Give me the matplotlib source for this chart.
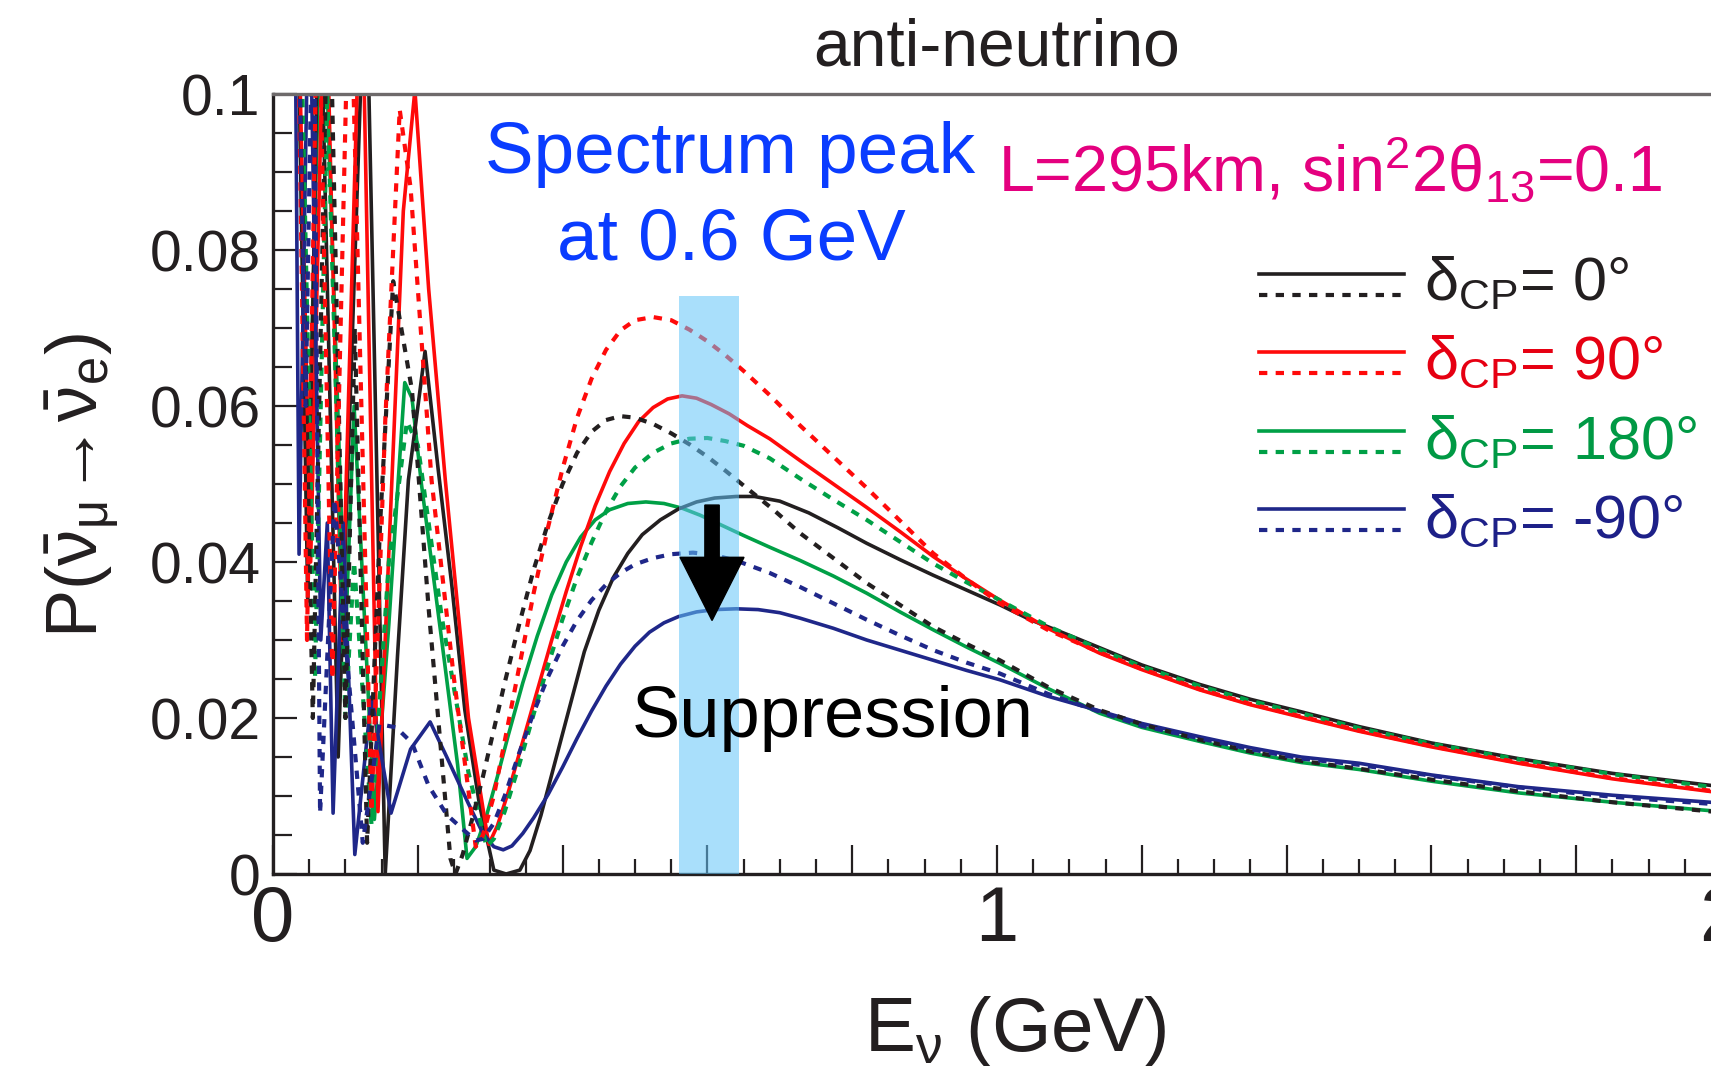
import matplotlib
matplotlib.use('Agg')
import matplotlib.pyplot as plt
from matplotlib.patches import Rectangle
from matplotlib.lines import Line2D
from matplotlib.ticker import MultipleLocator, FuncFormatter

plt.rcParams['font.family'] = ['Liberation Sans', 'DejaVu Sans']
plt.rcParams['mathtext.fontset'] = 'custom'
plt.rcParams['mathtext.rm'] = 'Liberation Sans'
plt.rcParams['mathtext.it'] = 'Liberation Sans:italic'
plt.rcParams['mathtext.bf'] = 'Liberation Sans:bold'
plt.rcParams['mathtext.sf'] = 'Liberation Sans'

# ---------------- data ----------------
# delta_CP = 0 deg, solid
bs_x = [0.033, 0.048, 0.064, 0.090, 0.128, 0.155, 0.172, 0.187, 0.210, 0.228, 0.247, 0.265, 0.285, 0.305, 0.322,
        0.341, 0.355, 0.370, 0.390, 0.410, 0.430, 0.450, 0.470, 0.490, 0.510, 0.535, 0.560, 0.585, 0.610, 0.640,
        0.665, 0.700, 0.740, 0.780, 0.820, 0.866, 0.912, 0.958, 1.004, 1.046, 1.100, 1.142, 1.200, 1.280, 1.350,
        1.420, 1.500, 1.600, 1.720, 1.850, 2.000]
bs_y = [0.120, 0.035, 0.120, 0.015, 0.120, 0.000, 0.028, 0.0505, 0.0670, 0.0520, 0.0370, 0.0210, 0.0090, 0.0005, 0.0000,
        0.0005, 0.0030, 0.0075, 0.0145, 0.0215, 0.0285, 0.0338, 0.0380, 0.0411, 0.0435, 0.0454, 0.0468, 0.0477, 0.0482, 0.0484,
        0.0484, 0.0478, 0.0463, 0.0444, 0.0424, 0.0403, 0.0383, 0.0364, 0.0345, 0.0326, 0.0306, 0.0290, 0.0268, 0.0243, 0.0224,
        0.0208, 0.0189, 0.0168, 0.0148, 0.0129, 0.0112]
# delta_CP = 0 deg, dotted
bd_x = [0.033, 0.055, 0.077, 0.100, 0.113, 0.130, 0.148, 0.166, 0.192, 0.215, 0.245, 0.252, 0.262, 0.275, 0.290,
        0.305, 0.320, 0.340, 0.360, 0.380, 0.400, 0.420, 0.440, 0.460, 0.480, 0.500, 0.525, 0.550, 0.575, 0.600,
        0.625, 0.650, 0.690, 0.728, 0.774, 0.820, 0.866, 0.912, 0.958, 1.004, 1.070, 1.142, 1.200, 1.280, 1.350,
        1.420, 1.500, 1.600, 1.720, 1.850, 2.000]
bd_y = [0.120, 0.020, 0.120, 0.020, 0.070, 0.004, 0.045, 0.076, 0.062, 0.034, 0.002, 0.000, 0.0025, 0.0070, 0.0125,
        0.0185, 0.0245, 0.0320, 0.0390, 0.0450, 0.0500, 0.0540, 0.0567, 0.0582, 0.0587, 0.0585, 0.0577, 0.0565, 0.0551, 0.0535,
        0.0517, 0.0498, 0.0468, 0.0437, 0.0405, 0.0373, 0.0345, 0.0317, 0.0295, 0.0274, 0.0240, 0.0210, 0.0192, 0.0172, 0.0157,
        0.0145, 0.0135, 0.0121, 0.0106, 0.0092, 0.0079]
# delta_CP = 90 deg, solid
rs_x = [0.033, 0.052, 0.072, 0.095, 0.122, 0.145, 0.164, 0.180, 0.196, 0.215, 0.238, 0.270, 0.298, 0.310, 0.325,
        0.345, 0.365, 0.385, 0.405, 0.425, 0.445, 0.465, 0.485, 0.505, 0.525, 0.545, 0.565, 0.585, 0.605, 0.630,
        0.655, 0.686, 0.728, 0.774, 0.820, 0.866, 0.912, 0.958, 1.004, 1.070, 1.142, 1.200, 1.280, 1.350, 1.420,
        1.500, 1.600, 1.720, 1.850, 2.000]
rs_y = [0.120, 0.040, 0.120, 0.030, 0.120, 0.008, 0.050, 0.085, 0.1005, 0.075, 0.0505, 0.020, 0.0038, 0.0062, 0.0105,
        0.0170, 0.0235, 0.0300, 0.0362, 0.0420, 0.0472, 0.0516, 0.0552, 0.0580, 0.0598, 0.0609, 0.0613, 0.0610, 0.0602, 0.0590,
        0.0575, 0.0558, 0.0530, 0.0500, 0.0470, 0.0439, 0.0407, 0.0378, 0.0351, 0.0315, 0.0283, 0.0262, 0.0236, 0.0217, 0.0201,
        0.0183, 0.0163, 0.0142, 0.0122, 0.0104]
# delta_CP = 90 deg, dotted
rd_x = [0.033, 0.047, 0.062, 0.082, 0.106, 0.136, 0.155, 0.175, 0.190, 0.219, 0.250, 0.280, 0.290, 0.305, 0.320,
        0.340, 0.360, 0.380, 0.400, 0.420, 0.440, 0.460, 0.480, 0.500, 0.525, 0.550, 0.575, 0.600, 0.625, 0.650,
        0.686, 0.728, 0.774, 0.820, 0.866, 0.912, 0.958, 1.004, 1.070, 1.142, 1.200, 1.280, 1.350, 1.420, 1.500,
        1.600, 1.720, 1.850, 2.000]
rd_y = [0.120, 0.030, 0.120, 0.025, 0.120, 0.008, 0.058, 0.098, 0.088, 0.0505, 0.025, 0.0035, 0.0050, 0.0100, 0.0170,
        0.0265, 0.0360, 0.0445, 0.0520, 0.0585, 0.0635, 0.0672, 0.0697, 0.0710, 0.0714, 0.0710, 0.0698, 0.0683, 0.0665, 0.0645,
        0.0614, 0.0575, 0.0535, 0.0495, 0.0453, 0.0411, 0.0378, 0.0347, 0.0313, 0.0284, 0.0263, 0.0237, 0.0218, 0.0202, 0.0184,
        0.0164, 0.0143, 0.0123, 0.0105]
# delta_CP = 180 deg, solid
gs_x = [0.033, 0.047, 0.068, 0.100, 0.112, 0.140, 0.160, 0.173, 0.182, 0.192, 0.205, 0.233, 0.255, 0.268, 0.280,
        0.295, 0.310, 0.325, 0.345, 0.365, 0.385, 0.405, 0.425, 0.445, 0.465, 0.490, 0.515, 0.540, 0.565, 0.590,
        0.620, 0.650, 0.686, 0.728, 0.774, 0.820, 0.866, 0.912, 0.958, 1.004, 1.070, 1.142, 1.200, 1.280, 1.350,
        1.420, 1.500, 1.600, 1.720, 1.850, 2.000]
gs_y = [0.120, 0.045, 0.120, 0.030, 0.060, 0.007, 0.032, 0.0505, 0.063, 0.061, 0.050, 0.030, 0.014, 0.0020, 0.0035,
        0.0075, 0.0125, 0.0178, 0.0245, 0.0305, 0.0358, 0.0400, 0.0432, 0.0454, 0.0467, 0.0475, 0.0477, 0.0475, 0.0469, 0.0460,
        0.0447, 0.0434, 0.0419, 0.0402, 0.0382, 0.0360, 0.0336, 0.0313, 0.0291, 0.0270, 0.0238, 0.0206, 0.0188, 0.0170, 0.0155,
        0.0143, 0.0134, 0.0119, 0.0104, 0.0092, 0.0080]
# delta_CP = 180 deg, dotted
gd_x = [0.036, 0.058, 0.075, 0.100, 0.112, 0.136, 0.160, 0.185, 0.200, 0.233, 0.270, 0.295, 0.305, 0.320, 0.340,
        0.360, 0.380, 0.400, 0.420, 0.440, 0.460, 0.480, 0.500, 0.525, 0.550, 0.575, 0.600, 0.625, 0.650, 0.686,
        0.728, 0.774, 0.820, 0.866, 0.912, 0.958, 1.004, 1.070, 1.142, 1.200, 1.280, 1.350, 1.420, 1.500, 1.600,
        1.720, 1.850, 2.000]
gd_y = [0.120, 0.025, 0.100, 0.020, 0.040, 0.0064, 0.040, 0.058, 0.055, 0.033, 0.013, 0.0035, 0.0045, 0.0080, 0.0140,
        0.0205, 0.0268, 0.0327, 0.0380, 0.0425, 0.0465, 0.0497, 0.0521, 0.0540, 0.0552, 0.0558, 0.0559, 0.0555, 0.0549, 0.0533,
        0.0507, 0.0480, 0.0454, 0.0426, 0.0398, 0.0374, 0.0351, 0.0318, 0.0288, 0.0266, 0.0241, 0.0222, 0.0206, 0.0187, 0.0167,
        0.0147, 0.0128, 0.0110]
# delta_CP = -90 deg, solid
bls_x = [0.030, 0.036, 0.050, 0.066, 0.075, 0.083, 0.097, 0.113, 0.136, 0.163, 0.190, 0.217, 0.240, 0.270, 0.290,
         0.305, 0.318, 0.330, 0.345, 0.360, 0.380, 0.400, 0.420, 0.440, 0.460, 0.480, 0.500, 0.520, 0.540, 0.560,
         0.585, 0.610, 0.640, 0.670, 0.700, 0.728, 0.774, 0.820, 0.866, 0.912, 0.958, 1.004, 1.070, 1.142, 1.200,
         1.280, 1.350, 1.420, 1.500, 1.600, 1.720, 1.850, 2.000]
bls_y = [0.120, 0.041, 0.120, 0.030, 0.045, 0.0078, 0.045, 0.0025, 0.0227, 0.0078, 0.0160, 0.0195, 0.0150, 0.0090, 0.0052,
         0.0035, 0.0031, 0.0036, 0.0052, 0.0072, 0.0102, 0.0137, 0.0174, 0.0209, 0.0241, 0.0269, 0.0292, 0.0310, 0.0322, 0.0330,
         0.0336, 0.0339, 0.0340, 0.0339, 0.0335, 0.0328, 0.0315, 0.0300, 0.0287, 0.0274, 0.0261, 0.0249, 0.0228, 0.0209, 0.0193,
         0.0176, 0.0162, 0.0150, 0.0142, 0.0127, 0.0112, 0.0101, 0.0091]
# delta_CP = -90 deg, dotted
bld_x = [0.033, 0.045, 0.056, 0.065, 0.085, 0.100, 0.124, 0.147, 0.170, 0.192, 0.215, 0.240, 0.265, 0.280, 0.290,
         0.305, 0.320, 0.340, 0.360, 0.380, 0.400, 0.420, 0.440, 0.460, 0.480, 0.500, 0.525, 0.550, 0.580, 0.610,
         0.645, 0.686, 0.728, 0.774, 0.820, 0.866, 0.912, 0.958, 1.004, 1.070, 1.142, 1.200, 1.280, 1.350, 1.420,
         1.500, 1.600, 1.720, 1.850, 2.000]
bld_y = [0.120, 0.060, 0.120, 0.0078, 0.048, 0.030, 0.004, 0.0192, 0.0188, 0.0168, 0.0113, 0.0076, 0.0055, 0.0043, 0.0045,
         0.0065, 0.0100, 0.0155, 0.0207, 0.0253, 0.0292, 0.0325, 0.0351, 0.0371, 0.0386, 0.0397, 0.0405, 0.0410, 0.0412, 0.0409,
         0.0400, 0.0386, 0.0368, 0.0347, 0.0326, 0.0306, 0.0287, 0.0271, 0.0257, 0.0231, 0.0208, 0.0190, 0.0174, 0.0160, 0.0148,
         0.0140, 0.0126, 0.0111, 0.0099, 0.0089]

legend_labels = ['0°', '90°', '180°', '-90°']
x_tick_labels = ['0', '1', '2']
y_tick_labels = ['0', '0.02', '0.04', '0.06', '0.08', '0.1']
band_range = (0.561, 0.643)      # GeV
band_top = 0.0741
arrow_x = 0.6064
arrow_from, arrow_to = 0.0473, 0.0325

# ---------------- style ----------------
C_BLACK = '#231f20'
C_RED = '#ff0a0a'
C_GREEN = '#00a046'
C_BLUE = '#1f2789'
TXT_COLORS = ['#231f20', '#e60012', '#009944', '#1d2088']
LINE_COLORS = [C_BLACK, C_RED, C_GREEN, C_BLUE]
LW_S = 2.6
LW_D = 3.0
DOT = (0, (2.0, 2.0))

W, H = 1711, 1066
fig = plt.figure(figsize=(W / 100, H / 100), dpi=100)
X0, XP = 273, 724        # pixel of x=0, px per GeV
Y0, YP = 874, 7800       # pixel of y=0, px per unit
ax = fig.add_axes([X0 / W, (H - Y0) / H, 2 * XP / W, 0.1 * YP / H])
ax.set_xlim(0, 2)
ax.set_ylim(0, 0.1)

solids = [(gs_x, gs_y, C_GREEN), (bs_x, bs_y, C_BLACK), (rs_x, rs_y, C_RED), (bls_x, bls_y, C_BLUE)]
dotteds = [(gd_x, gd_y, C_GREEN), (bd_x, bd_y, C_BLACK), (rd_x, rd_y, C_RED), (bld_x, bld_y, C_BLUE)]
for xs, ys, c in solids:
    ax.plot(xs, ys, color=c, lw=LW_S, solid_joinstyle='round', zorder=2)
for xs, ys, c in dotteds:
    ax.plot(xs, ys, color=c, lw=LW_D, linestyle=DOT, dash_capstyle='butt', zorder=2.5)

# shaded band
ax.add_patch(Rectangle((band_range[0], 0), band_range[1] - band_range[0], band_top,
                       facecolor='#63c5f8', alpha=0.55, edgecolor='none', zorder=3))
# arrow
ax.arrow(arrow_x, arrow_from, 0, arrow_to - arrow_from, width=0.0198, head_width=0.0884,
         head_length=0.0081, length_includes_head=True, color='black', zorder=4)

# ticks
ax.xaxis.set_major_locator(MultipleLocator(0.2))
ax.xaxis.set_minor_locator(MultipleLocator(0.05))
ax.yaxis.set_major_locator(MultipleLocator(0.02))
ax.yaxis.set_minor_locator(MultipleLocator(0.005))


def xfmt(v, p):
    r = round(v)
    if abs(v - r) < 1e-6 and 0 <= r < len(x_tick_labels):
        return x_tick_labels[r]
    return ''


def yfmt(v, p):
    i = int(round(v / 0.02))
    if abs(v - i * 0.02) < 1e-6 and 0 <= i < len(y_tick_labels):
        return y_tick_labels[i]
    return ''


ax.xaxis.set_major_formatter(FuncFormatter(xfmt))
ax.yaxis.set_major_formatter(FuncFormatter(yfmt))
ax.tick_params(axis='x', which='major', direction='in', length=21, width=1.6, color=C_BLACK,
               labelsize=56, pad=7, labelcolor=C_BLACK, top=False)
ax.tick_params(axis='x', which='minor', direction='in', length=10.5, width=1.6, color=C_BLACK, top=False)
ax.tick_params(axis='y', which='major', direction='in', length=17, width=1.6, color=C_BLACK,
               labelsize=41, pad=9, labelcolor=C_BLACK, right=False)
ax.tick_params(axis='y', which='minor', direction='in', length=14, width=1.6, color=C_BLACK, right=False)

ax.spines['right'].set_visible(False)
ax.spines['left'].set_color(C_BLACK)
ax.spines['bottom'].set_color(C_BLACK)
ax.spines['top'].set_color('#6e6a6b')
for s in ['left', 'bottom', 'top']:
    ax.spines[s].set_linewidth(2.4)


# legend (drawn by hand: solid above dotted per row)
def px2ax(px, py):
    return (px - X0) / (2 * XP), (Y0 - py) / (0.1 * YP)


for i, (lab, lc, tc) in enumerate(zip(legend_labels, LINE_COLORS, TXT_COLORS)):
    ys_px = 274 + 78.3 * i
    yd_px = 295 + 78.3 * i
    yt_px = 299 + 79.5 * i
    xa, ya = px2ax(1259, ys_px)
    xb, _ = px2ax(1404, ys_px)
    _, yd = px2ax(0, yd_px)
    ax.add_line(Line2D([xa, xb], [ya, ya], transform=ax.transAxes, color=lc, lw=LW_S, clip_on=False))
    ax.add_line(Line2D([xa, xb], [yd, yd], transform=ax.transAxes, color=lc, lw=LW_D,
                       linestyle=DOT, clip_on=False))
    xt, yt = px2ax(1424, yt_px)
    ax.text(xt, yt, 'δ$_{\\mathrm{CP}}$= ' + lab, transform=ax.transAxes, color=tc, fontsize=44,
            ha='left', va='baseline', zorder=5)


# texts
def fx(px):
    return px / W


def fy(py):
    return (H - py) / H


fig.text(fx(997), fy(65), 'anti-neutrino', color=C_BLACK, fontsize=47.5, ha='center', va='baseline')
fig.text(fx(730), fy(173), 'Spectrum peak', color='#0a3cff', fontsize=52.5, ha='center', va='baseline')
fig.text(fx(731), fy(259), 'at 0.6 GeV', color='#0a3cff', fontsize=52.5, ha='center', va='baseline')
fig.text(fx(998), fy(192), 'L=295km, sin$^{2}$2θ$_{13}$=0.1', color='#e4007f', fontsize=46.5,
         ha='left', va='baseline')
fig.text(fx(833), fy(737), 'Suppression', color='black', fontsize=52, ha='center', va='baseline', zorder=6)
fig.text(fx(1015), fy(1051), 'E$_{\\mathrm{\\nu}}$ (GeV)', color=C_BLACK, fontsize=55, ha='center',
         va='baseline')
fig.text(fx(82), fy(486), 'P($\\bar{\\mathrm{\\nu}}_{\\mathrm{\\mu}}\\!\\rightarrow\\!\\bar{\\mathrm{\\nu}}_{\\mathrm{e}}$)',
         color=C_BLACK, fontsize=52, rotation=90, ha='center', va='center')
# tick label of the neighbouring panel, cut by the left border
fig.text(fx(-20), fy(886), '2', color=C_BLACK, fontsize=56, ha='center', va='top')

fig.savefig('out.png', dpi=100, facecolor='white')
